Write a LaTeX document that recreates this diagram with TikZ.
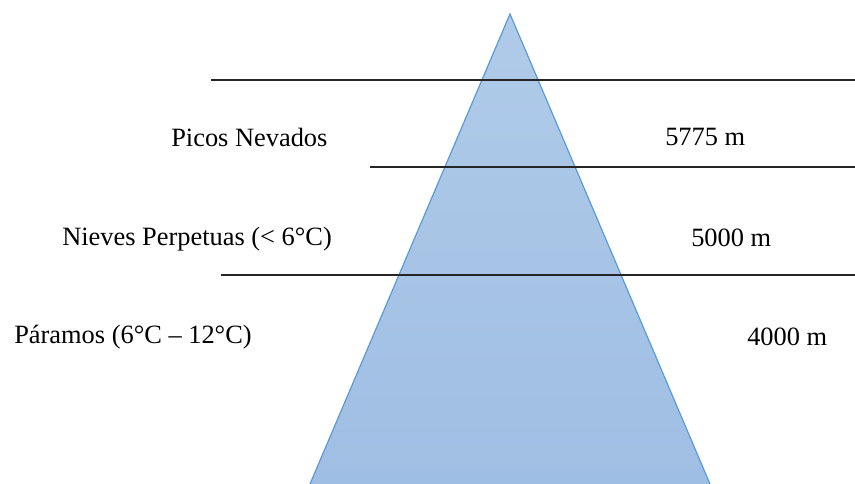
\documentclass[tikz,border=0pt]{standalone}
\usepackage{fontspec}
\setmainfont{Liberation Serif}
\usepackage{tikz}
\usetikzlibrary{positioning}

\definecolor{peakfill}{HTML}{A6C3E6}
\definecolor{peaktop}{HTML}{B0CBE9}
\definecolor{peakbot}{HTML}{9FBEE3}
\definecolor{peakedge}{HTML}{5B9BD5}

\begin{document}
\begin{tikzpicture}[x=0.75pt,y=-0.75pt,
  zone/.style={anchor=base west,inner sep=0pt,font=\fontsize{19.8}{24}\selectfont},
  level/.style={draw=black!85,line width=1.1pt},
  peak/.style={draw=peakedge,line width=0.9pt,top color=peaktop,bottom color=peakbot}]

\useasboundingbox (0,0) rectangle (855,484);

% the mountain
\coordinate (apex) at (510,14);
\coordinate (baseL) at (310,484);
\coordinate (baseR) at (710,484);
\draw[peak] (baseL) -- (apex) -- (baseR);

% altitude limits
\coordinate (l1a) at (211,80);  \coordinate (l1b) at (855,80);
\coordinate (l2a) at (370,167); \coordinate (l2b) at (855,167);
\coordinate (l3a) at (221,275); \coordinate (l3b) at (855,275);
\draw[level] (l1a) -- (l1b);
\draw[level] (l2a) -- (l2b);
\draw[level] (l3a) -- (l3b);

% zones
\node[zone] (picos) at (171,147) {Picos Nevados};
\node[zone] (nieves) at (62,246) {Nieves Perpetuas (< 6°C)};
\node[zone] (paramos) at (14,343) {Páramos (6°C – 12°C)};

% heights
\node[zone] (h1) at (665,146) {5775 m};
\node[zone] (h2) at (691,247) {5000 m};
\node[zone] (h3) at (747,345) {4000 m};
\end{tikzpicture}
\end{document}
